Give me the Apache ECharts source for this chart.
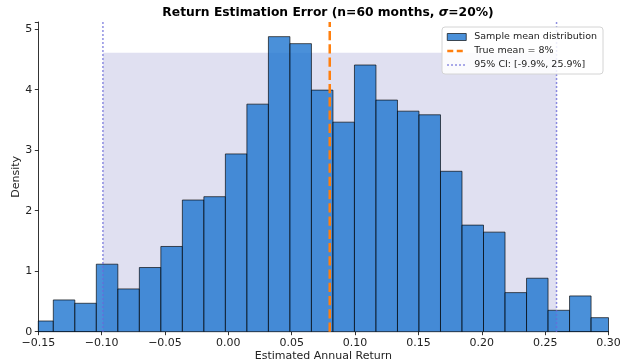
<!DOCTYPE html>
<html>
<head>
<meta charset="utf-8">
<script src="https://cdn.jsdelivr.net/npm/echarts@6/dist/echarts.min.js"></script>
<style>
html,body{margin:0;padding:0;background:#fff;}
#chart{width:622px;height:363px;}
</style>
</head>
<body>
<div id="chart"></div>
<script>
// ---- data ----
const binEdges = [-0.155136, -0.13816, -0.121184, -0.104208, -0.087232, -0.070256, -0.05328,
  -0.036304, -0.019328, -0.002352, 0.014624, 0.0316, 0.048576, 0.065552, 0.082528, 0.099504,
  0.11648, 0.133456, 0.150432, 0.167408, 0.184384, 0.20136, 0.218336, 0.235312, 0.252288,
  0.269264, 0.28624, 0.303216];
const density = [0.177, 0.525, 0.470, 1.116, 0.707, 1.061, 1.409, 2.177, 2.232, 2.939, 3.762,
  4.878, 4.762, 3.994, 3.464, 4.409, 3.829, 3.646, 3.586, 2.652, 1.762, 1.646, 0.646, 0.884,
  0.354, 0.591, 0.232];
const trueMean = 0.08;
const ciBounds = [-0.099, 0.259];
const ciShadeTop = 4.61;
const xRange = [-0.15, 0.30];
const xTickStep = 0.05;
const yRange = [0, 5.12];
const yTickStep = 1;
const labels = {
  title: 'Return Estimation Error (n=60 months, ',
  hist: 'Sample mean distribution',
  mean: 'True mean = 8%',
  ci: '95% CI: [-9.9%, 25.9%]',
  x: 'Estimated Annual Return',
  y: 'Density'
};

const FONT = 'DejaVu Sans';
const barFill = 'rgba(29,116,208,0.8)';
const barEdge = 'rgba(0,0,0,0.65)';
const meanColor = '#ff7f0e';
const ciColor = '#6a6ad8';

const histData = density.map((d, i) => [binEdges[i], binEdges[i + 1], d]);

function rectItem(params, api, style) {
  const p0 = api.coord([api.value(0), 0]);
  const p1 = api.coord([api.value(1), api.value(2)]);
  const cs = params.coordSys;
  const r = echarts.graphic.clipRectByRect(
    {x: p0[0], y: p1[1], width: p1[0] - p0[0], height: p0[1] - p1[1]},
    {x: cs.x, y: cs.y, width: cs.width, height: cs.height});
  return r && {type: 'rect', shape: r, style: style};
}

const chart = echarts.init(document.getElementById('chart'), null, {renderer: 'canvas'});
chart.setOption({
  animation: false,
  backgroundColor: '#fff',
  textStyle: {fontFamily: FONT},
  title: {
    text: '{b|' + labels.title + '}{i|σ}{b|=20%)}',
    left: 323, textAlign: 'center', top: 2,
    textStyle: {
      rich: {
        b: {fontFamily: FONT, fontWeight: 'bold', fontSize: 12.3, color: '#000'},
        i: {fontFamily: FONT, fontStyle: 'italic', fontSize: 12.3, color: '#000'}
      }
    }
  },
  grid: {left: 38.3, right: 13.5, top: 22, bottom: 31.3, containLabel: false, outerBoundsMode: 'none'},
  legend: {
    right: 19, top: 27, orient: 'vertical', align: 'left',
    itemWidth: 19, itemHeight: 7, itemGap: 4,
    padding: [5, 6, 4, 4],
    backgroundColor: 'rgba(255,255,255,0.85)', borderColor: '#d4d4d4', borderWidth: 1, borderRadius: 3,
    textStyle: {fontFamily: FONT, fontSize: 9.5, color: '#222', padding: [0, 0, 0, 3]},
    data: [
      {name: labels.hist, icon: 'rect', itemStyle: {color: barFill, borderColor: barEdge, borderWidth: 1}},
      {name: labels.mean, itemStyle: {opacity: 0},
        lineStyle: {color: meanColor, width: 2.5, type: [6, 3.5], opacity: 1}},
      {name: labels.ci, itemStyle: {opacity: 0},
        lineStyle: {color: ciColor, width: 1.5, type: [1.5, 2.5], opacity: 1}}
    ]
  },
  xAxis: {
    type: 'value', min: xRange[0], max: xRange[1], interval: xTickStep,
    name: labels.x, nameLocation: 'middle', nameGap: 19, nameMoveOverlap: false,
    nameTextStyle: {fontFamily: FONT, fontSize: 11, color: '#222'},
    axisLine: {show: true, onZero: false, lineStyle: {color: '#000', width: 0.8}},
    axisTick: {show: true, length: 3.5, lineStyle: {color: '#000', width: 0.8}},
    axisLabel: {fontFamily: FONT, fontSize: 11, color: '#222', margin: 6,
      formatter: v => (v < 0 ? '\u2212' : '') + Math.abs(v).toFixed(2)},
    splitLine: {show: false}
  },
  yAxis: {
    type: 'value', min: yRange[0], max: yRange[1], interval: yTickStep,
    name: labels.y, nameLocation: 'middle', nameGap: 17, nameRotate: 90, nameMoveOverlap: false,
    nameTextStyle: {fontFamily: FONT, fontSize: 11, color: '#222'},
    axisLine: {show: true, onZero: false, lineStyle: {color: '#000', width: 0.8}},
    axisTick: {show: true, length: 3.5, lineStyle: {color: '#000', width: 0.8}},
    axisLabel: {fontFamily: FONT, fontSize: 11, color: '#222', margin: 6,
      formatter: v => Math.abs(v - Math.round(v)) < 1e-9 ? String(Math.round(v)) : ''},
    splitLine: {show: false}
  },
  series: [
    {
      name: 'ciShade', type: 'custom', z: 1, silent: true,
      data: [[ciBounds[0], ciBounds[1], ciShadeTop]],
      encode: {x: [0, 1], y: 2},
      renderItem: (params, api) => rectItem(params, api, {fill: '#e0e0f1'})
    },
    {
      name: labels.hist, type: 'custom', z: 2,
      itemStyle: {color: barFill},
      data: histData,
      encode: {x: [0, 1], y: 2},
      renderItem: (params, api) => rectItem(params, api, {fill: barFill, stroke: barEdge, lineWidth: 1})
    },
    {
      name: labels.mean, type: 'line', z: 4, symbol: 'none',
      data: [[trueMean, yRange[0]], [trueMean, yRange[1]]],
      itemStyle: {color: meanColor},
      lineStyle: {color: meanColor, width: 2.5, type: [9.25, 4]}
    },
    {
      name: labels.ci, type: 'line', z: 3, symbol: 'none',
      data: [[ciBounds[0], yRange[0]], [ciBounds[0], yRange[1]]],
      itemStyle: {color: ciColor},
      lineStyle: {color: ciColor, width: 1.5, type: [1.5, 2.5]}
    },
    {
      name: labels.ci, type: 'line', z: 3, symbol: 'none',
      data: [[ciBounds[1], yRange[0]], [ciBounds[1], yRange[1]]],
      itemStyle: {color: ciColor},
      lineStyle: {color: ciColor, width: 1.5, type: [1.5, 2.5]}
    }
  ]
});
</script>
</body>
</html>
